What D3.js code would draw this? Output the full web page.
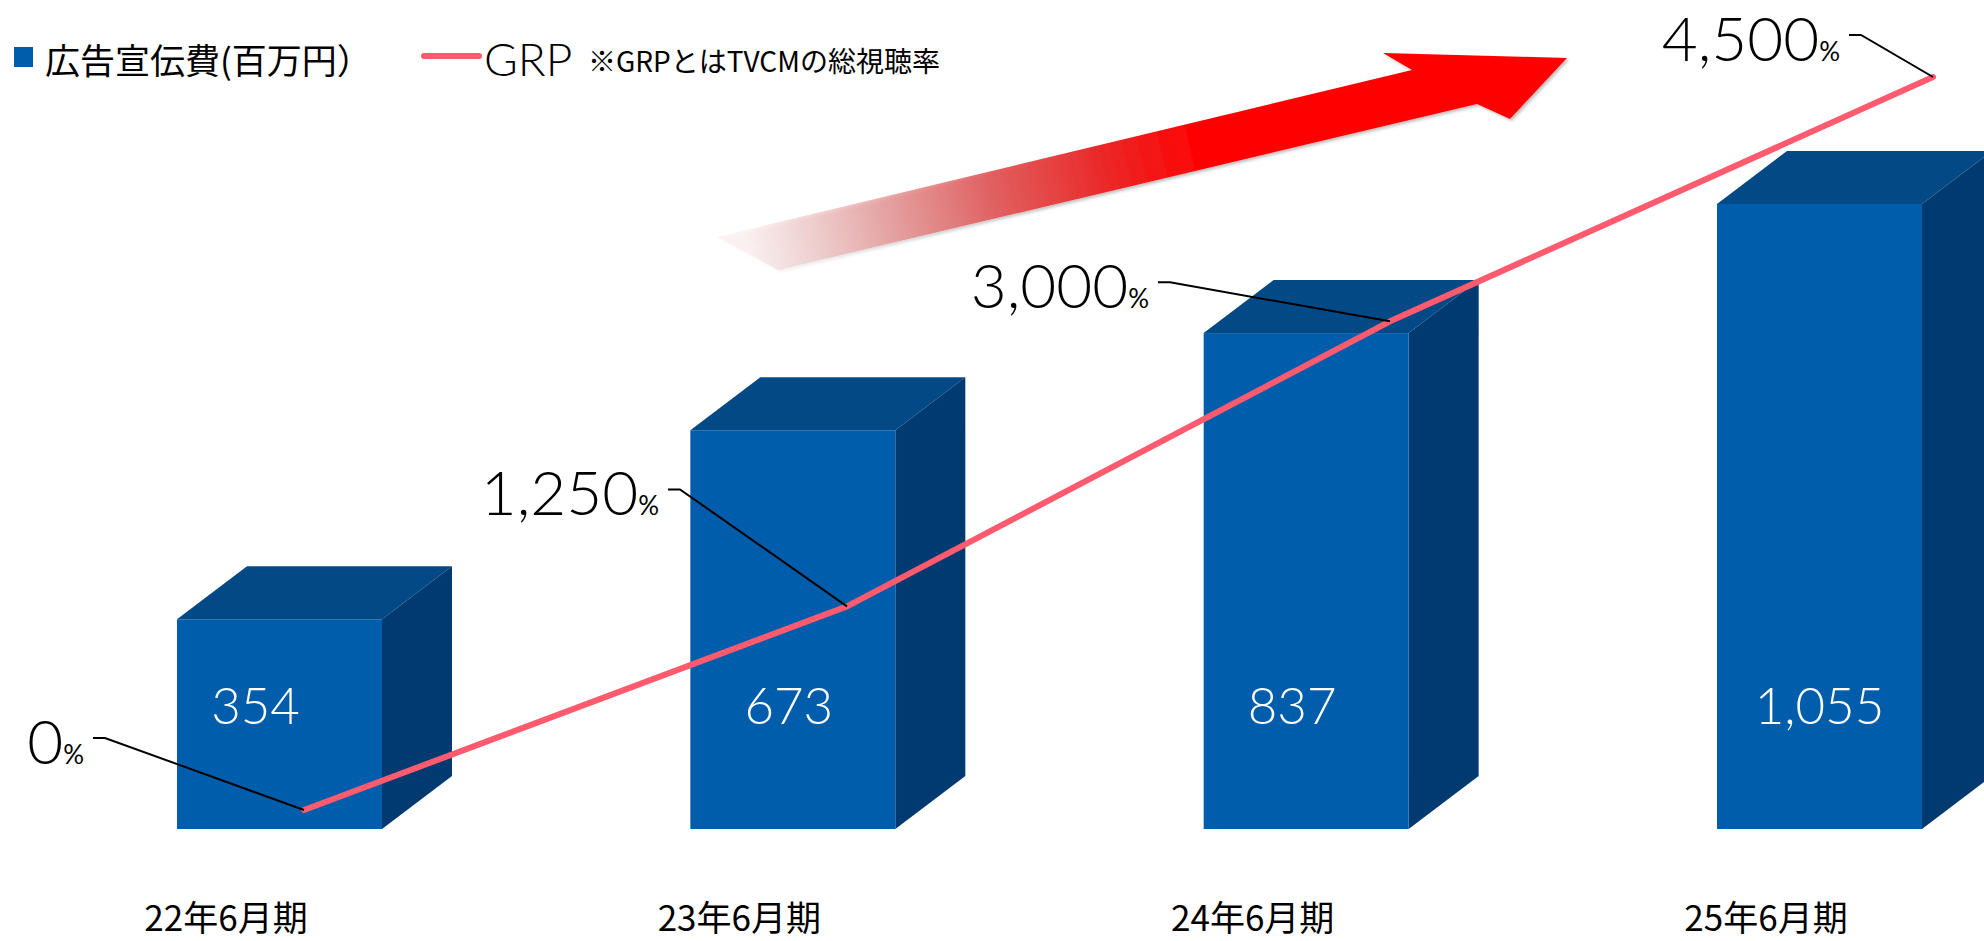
<!DOCTYPE html>
<html lang="ja">
<head>
<meta charset="utf-8">
<script src="https://cdn.jsdelivr.net/npm/d3@7"></script>
<style>
  html, body { margin: 0; padding: 0; background: #ffffff; }
  svg { display: block; }
  .num { font-family: "Lato", "Open Sans", sans-serif; font-weight: 300; }
  .jp { font-family: "Noto Sans CJK JP", "Noto Sans", sans-serif; font-weight: 400; }
</style>
</head>
<body>
<svg id="chart" width="1984" height="941"></svg>
<script>
// ---- data ----
const categories = ["22年6月期", "23年6月期", "24年6月期", "25年6月期"];
const adSpend = [354, 673, 837, 1055];          // 広告宣伝費 (百万円)
const grp = [0, 1250, 3000, 4500];             // GRP (%)
const legendSpend = "広告宣伝費(百万円）";
const legendGrp = "GRP";
const grpNote = "※GRPとはTVCMの総視聴率";

// ---- layout ----
const W = 1984, H = 941;
const barWidth = 205;
const depth = { dx: 70, dy: 53 };
const valueLabelShift = [-24, -4, -14, 0];
// callout anchor offsets relative to each GRP point
const calloutOffsets = [[-211, -72], [-179, -117], [-232, -39], [-84, -42]];

const colors = {
  front: "#005dab",
  top: "#034985",
  side: "#003a70",
  line: "#ff5a6e",
  leader: "#000000"
};

const svg = d3.select("#chart");

// scales
const xBar = d3.scalePoint().domain(categories).range([279.5, 1819.5]);
const yBar = d3.scaleLinear().domain([0, 1200]).range([829, 118]);
const xLine = d3.scalePoint().domain(categories).range([304, 1933]);
const yLine = d3.scaleLinear().domain([0, 4500]).range([810, 77]);

// ---- trend arrow (decoration) ----
const defs = svg.append("defs");
const tail = [747.5, 253.5], tip = [1567, 58];
const grad = defs.append("linearGradient")
  .attr("id", "arrowFade")
  .attr("gradientUnits", "userSpaceOnUse")
  .attr("x1", tail[0]).attr("y1", tail[1])
  .attr("x2", tip[0]).attr("y2", tip[1]);
[
  [0.00, "#e89a9a", 0.10],
  [0.06, "#e49090", 0.28],
  [0.18, "#df7070", 0.60],
  [0.30, "#e05050", 0.88],
  [0.43, "#ea2a2a", 1],
  [0.56, "#ff0000", 1],
  [1.00, "#ff0000", 1]
].forEach(([o, c, a]) => grad.append("stop").attr("offset", o).attr("stop-color", c).attr("stop-opacity", a));

const shadow = defs.append("filter").attr("id", "arrowShadow")
  .attr("x", "-10%").attr("y", "-30%").attr("width", "120%").attr("height", "160%");
shadow.append("feDropShadow").attr("dx", 2).attr("dy", 2)
  .attr("stdDeviation", 1.5).attr("flood-color", "#000").attr("flood-opacity", 0.25);

const arrowShape = [
  [717, 237], [1412, 70], [1383, 53], tip, [1510, 119], [1477, 104], [778, 270]
];
svg.append("path")
  .attr("d", d3.line()(arrowShape) + "Z")
  .attr("fill", "url(#arrowFade)")
  .attr("filter", "url(#arrowShadow)");

// ---- 3D bars ----
const bars = svg.append("g").attr("class", "bars")
  .selectAll("g").data(categories.map((c, i) => ({ c, v: adSpend[i], i })))
  .join("g");

bars.each(function (d) {
  const g = d3.select(this);
  const x0 = xBar(d.c) - barWidth / 2, x1 = x0 + barWidth;
  const yT = yBar(d.v), yB = yBar(0);
  const { dx, dy } = depth;
  g.append("path")
    .attr("d", d3.line()([[x0, yT], [x0 + dx, yT - dy], [x1 + dx, yT - dy], [x1, yT]]) + "Z")
    .attr("fill", colors.top);
  g.append("path")
    .attr("d", d3.line()([[x1, yT], [x1 + dx, yT - dy], [x1 + dx, yB - dy], [x1, yB]]) + "Z")
    .attr("fill", colors.side);
  g.append("rect")
    .attr("x", x0).attr("y", yT)
    .attr("width", barWidth).attr("height", yB - yT)
    .attr("fill", colors.front);
  g.append("text")
    .attr("class", "num")
    .attr("x", xBar(d.c) + valueLabelShift[d.i])
    .attr("y", 724)
    .attr("text-anchor", "middle")
    .attr("font-size", 51)
    .attr("fill", "#ffffff")
    .text(d3.format(",")(d.v));
});

// ---- category axis ----
const axisY = 880;
const axis = svg.append("g")
  .attr("transform", `translate(0,${axisY})`)
  .call(d3.axisBottom(xBar).tickSize(0).tickPadding(0));
axis.select(".domain").remove();
axis.selectAll("text")
  .attr("class", "jp")
  .attr("dy", null)
  .attr("y", 931 - axisY)
  .attr("x", -54)
  .attr("font-size", 35)
  .attr("fill", "#000");

// ---- GRP line ----
const pts = categories.map((c, i) => [xLine(c), yLine(grp[i])]);
svg.append("path")
  .attr("d", d3.line()(pts))
  .attr("fill", "none")
  .attr("stroke", colors.line)
  .attr("stroke-width", 6)
  .attr("stroke-linejoin", "round")
  .attr("stroke-linecap", "round");

// ---- callouts ----
const callouts = svg.append("g").attr("class", "callouts");
pts.forEach((p, i) => {
  const ax = p[0] + calloutOffsets[i][0];
  const ay = p[1] + calloutOffsets[i][1];
  callouts.append("path")
    .attr("d", d3.line()([[ax, ay], [ax + 12, ay], p]))
    .attr("fill", "none")
    .attr("stroke", colors.leader)
    .attr("stroke-width", 2);
  const t = callouts.append("text")
    .attr("class", "num")
    .attr("x", ax - 9)
    .attr("y", ay + 26)
    .attr("text-anchor", "end")
    .attr("fill", "#000");
  t.append("tspan").attr("font-size", 62).text(d3.format(",")(grp[i]));
  t.append("tspan").attr("font-size", 26).attr("font-weight", 400).text("%");
});

// ---- legend ----
const legend = svg.append("g").attr("class", "legend");
legend.append("rect")
  .attr("x", 14).attr("y", 47).attr("width", 19).attr("height", 20)
  .attr("fill", colors.front);
legend.append("text")
  .attr("class", "jp")
  .attr("x", 45).attr("y", 74)
  .attr("font-size", 35)
  .attr("fill", "#000")
  .text(legendSpend);
legend.append("line")
  .attr("x1", 424).attr("x2", 479).attr("y1", 56).attr("y2", 56)
  .attr("stroke", colors.line).attr("stroke-width", 6).attr("stroke-linecap", "round");
legend.append("text")
  .attr("class", "num")
  .attr("x", 484).attr("y", 76)
  .attr("font-size", 46)
  .attr("font-weight", 400)
  .attr("fill", "#000")
  .text(legendGrp);
legend.append("text")
  .attr("class", "jp")
  .attr("x", 588).attr("y", 72)
  .attr("font-size", 28)
  .attr("fill", "#000")
  .text(grpNote);
</script>
</body>
</html>
